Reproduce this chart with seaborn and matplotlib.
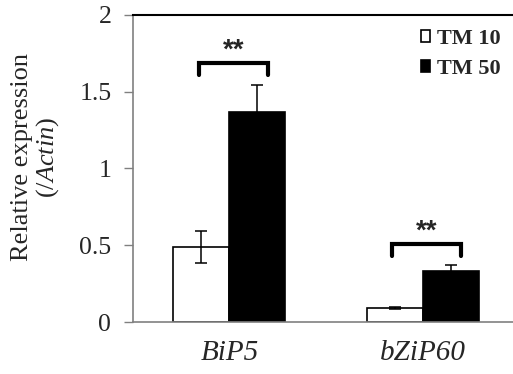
import numpy as np
import pandas as pd
import matplotlib
matplotlib.use("Agg")
import matplotlib.pyplot as plt
import seaborn as sns

# values
genes = ["BiP5", "bZiP60"]
treatments = ["TM 10", "TM 50"]
tm10_mean = [0.49, 0.09]
tm50_mean = [1.37, 0.33]
tm10_err = [0.105, 0.008]
tm50_err = [0.175, 0.04]
bracket_top = [1.69, 0.51]
star_y = [1.72, 0.54]

df = pd.DataFrame({
    "gene": genes * 2,
    "treatment": [treatments[0]] * 2 + [treatments[1]] * 2,
    "value": tm10_mean + tm50_mean,
})
errs = [tm10_err, tm50_err]

sns.set_style("white")
plt.rcParams["font.family"] = ["Liberation Serif", "DejaVu Sans"]
plt.rcParams["mathtext.fontset"] = "custom"
plt.rcParams["mathtext.rm"] = "Liberation Serif"
plt.rcParams["mathtext.it"] = "Liberation Serif:italic"

fig = plt.figure(figsize=(5.13, 3.74), dpi=100)
ax = fig.add_axes([0.259, 0.139, 0.753, 0.821])

sns.barplot(data=df, x="gene", y="value", hue="treatment",
            palette={"TM 10": "white", "TM 50": "black"},
            edgecolor="black", linewidth=1.2, width=0.58,
            errorbar=None, ax=ax)

# error bars on each bar
for cont, e in zip(ax.containers, errs):
    for bar, err in zip(cont, e):
        xc = bar.get_x() + bar.get_width() / 2
        ax.errorbar(xc, bar.get_height(), yerr=err, color="black",
                    elinewidth=1.1, capsize=4.5, capthick=1.1, zorder=5)

# significance brackets
for i in range(len(genes)):
    x0, x1 = i - 0.16, i + 0.2
    top = bracket_top[i]
    ax.plot([x0, x0, x1, x1], [top - 0.08, top, top, top - 0.08],
            color="black", lw=3, solid_joinstyle="miter", zorder=6)
    ax.text((x0 + x1) / 2, star_y[i], "**", ha="center", va="baseline",
            fontsize=20, fontweight="bold", family="Liberation Sans")

ax.set_xlim(-0.5, 1.5)
ax.set_ylim(0, 2)
ax.set_yticks([0, 0.5, 1, 1.5, 2])
ax.set_yticklabels(["0", "0.5", "1", "1.5", "2"])
ax.set_xticks([0, 1])
ax.set_xticklabels(genes, fontsize=21, style="italic")
ax.set_xticks([0.5], minor=True)
ax.tick_params(axis="x", which="major", length=0, pad=13)
ax.tick_params(axis="x", which="minor", length=5, color="#808080", width=1)
ax.tick_params(axis="y", length=6.5, color="#808080", width=1, labelsize=18.5, pad=9,
               left=True, direction="out")
ax.set_xlabel("")
ax.set_ylabel("")
fig.text(36 / 513, 0.58, "Relative expression\n(/$\\mathit{Actin}$)", rotation=90,
         ha="center", va="center", fontsize=19, linespacing=1.05, multialignment="center")

for s in ["left", "bottom"]:
    ax.spines[s].set_color("#808080")
    ax.spines[s].set_linewidth(1.2)
ax.spines["top"].set_color("black")
ax.spines["top"].set_linewidth(1.5)
ax.spines["right"].set_visible(False)

ax.legend(loc="upper right", bbox_to_anchor=(0.951, 0.955), frameon=False,
          prop={"weight": "bold", "size": 16}, handlelength=0.42, handleheight=0.42,
          handletextpad=0.28, labelspacing=0.45, borderpad=0, borderaxespad=0)

fig.savefig("out.png", dpi=100)
